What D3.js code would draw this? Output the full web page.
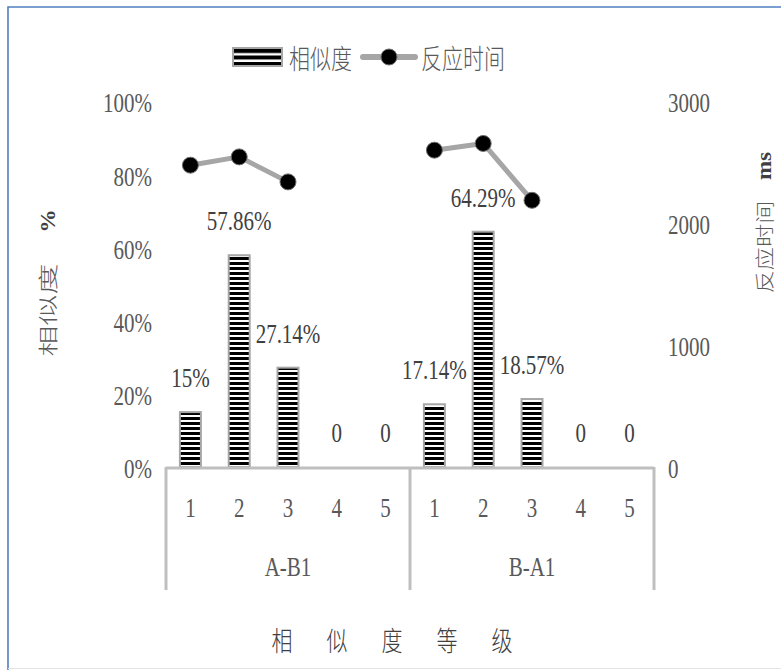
<!DOCTYPE html>
<html>
<head>
<meta charset="utf-8">
<script src="https://cdn.jsdelivr.net/npm/d3@7"></script>
<style>
  html, body { margin: 0; padding: 0; background: #fff; }
  svg { display: block; }
  text { font-family: "Liberation Serif", "Noto Sans CJK SC", serif; }
  .cjk { font-family: "Noto Sans CJK SC", "Liberation Serif", sans-serif; font-weight: 300; }
</style>
</head>
<body>
<svg id="chart" width="781" height="670"></svg>
<script>
// Groups and similarity levels along the category axis
const groups = ["A-B1", "B-A1"];
const levels = ["1", "2", "3", "4", "5"];

// Similarity share per level (%), one array per group
const simAB = [15, 57.86, 27.14, 0, 0];
const simBA = [17.14, 64.29, 18.57, 0, 0];

// Reaction time per level (ms); levels 4 and 5 have no trials
const rtAB = [2474, 2542, 2337, null, null];
const rtBA = [2597, 2652, 2186, null, null];

// Tick values for both vertical axes
const leftTicks = [0, 20, 40, 60, 80, 100];
const rightTicks = [0, 1000, 2000, 3000];

// Labels shown over each bar
const labelAB = ["15%", "57.86%", "27.14%", "0", "0"];
const labelBA = ["17.14%", "64.29%", "18.57%", "0", "0"];

const SY = 1.28;           // vertical text stretch
const TXT = "#595959";
const LBL = "#404040";
const AXIS = "#bfbfbf";

const svg = d3.select("#chart");

// Build flat rows for the band scale
const rows = [];
groups.forEach((g, gi) => {
  const sims = gi === 0 ? simAB : simBA;
  const rts = gi === 0 ? rtAB : rtBA;
  const lbls = gi === 0 ? labelAB : labelBA;
  levels.forEach((l, li) => rows.push({ key: g + "|" + l, group: g, level: l, sim: sims[li], rt: rts[li], label: lbls[li] }));
});

const x = d3.scaleBand().domain(rows.map(d => d.key)).range([166, 654]).paddingInner(0.57).paddingOuter(0.285);
const yL = d3.scaleLinear().domain([0, 100]).range([467, 101]);
const yR = d3.scaleLinear().domain([0, 3000]).range([467, 101]);
const cx = d => x(d.key) + x.bandwidth() / 2;

// Stripe patterns for bars and legend swatch
const defs = svg.append("defs");
const pat = defs.append("pattern").attr("id", "stripes").attr("patternUnits", "userSpaceOnUse")
  .attr("width", 10).attr("height", 5).attr("y", 467);
pat.append("rect").attr("width", 10).attr("height", 5).attr("fill", "#fff");
pat.append("rect").attr("y", 0).attr("width", 10).attr("height", 3).attr("fill", "#000");
const patL = defs.append("pattern").attr("id", "stripesL").attr("patternUnits", "userSpaceOnUse")
  .attr("width", 10).attr("height", 6.5).attr("y", 49);
patL.append("rect").attr("width", 10).attr("height", 6.5).attr("fill", "#fff");
patL.append("rect").attr("width", 10).attr("height", 4).attr("fill", "#000");

// Outer frame
svg.append("path").attr("d", "M8,670V7H781").attr("fill", "none").attr("stroke", "#4f7fc0").attr("stroke-width", 1.6);
svg.append("line").attr("x1", 8).attr("x2", 781).attr("y1", 668.5).attr("y2", 668.5).attr("stroke", "#e4e4e4");

// Stretched-text helper
function stext(sel, px, py, str, opts = {}) {
  const s = opts.stretch || SY;
  const t = sel.append("text")
    .attr("transform", `translate(${px},${py}) ${opts.rotate ? "rotate(-90) scale(" + s + ",1)" : "scale(1," + s + ")"}`)
    .attr("text-anchor", opts.anchor || "middle")
    .attr("dominant-baseline", "central")
    .attr("font-size", opts.size || 21)
    .attr("fill", opts.fill || TXT)
    .text(str);
  if (opts.cls) t.attr("class", opts.cls);
  if (opts.weight) t.attr("font-weight", opts.weight);
  if (opts.ls) t.attr("letter-spacing", opts.ls);
  return t;
}

// Vertical axes: labels only, stretched like the rest of the text
function styleAxis(g) {
  g.select(".domain").remove();
  g.selectAll("text").attr("dy", null).attr("dominant-baseline", "central")
    .attr("font-size", 21).attr("font-family", "Liberation Serif").attr("fill", TXT)
    .attr("transform", `scale(1,${SY})`);
  g.selectAll(".tick").each(function () {
    const tr = d3.select(this).attr("transform");
    const ty = +tr.match(/,([\d.\-]+)\)/)[1] + 2;
    d3.select(this).attr("transform", `translate(0,${ty})`);
  });
}
svg.append("g").attr("transform", "translate(152,0)")
  .call(d3.axisLeft(yL).tickValues(leftTicks).tickSize(0).tickPadding(0).tickFormat(d => d + "%"))
  .call(styleAxis);
svg.append("g").attr("transform", "translate(668,0)")
  .call(d3.axisRight(yR).tickValues(rightTicks).tickSize(0).tickPadding(0).tickFormat(d3.format("d")))
  .call(styleAxis);

// Bars
svg.append("g").selectAll("rect").data(rows.filter(d => d.sim > 0)).join("rect")
  .attr("x", d => x(d.key)).attr("width", x.bandwidth())
  .attr("y", d => yL(d.sim)).attr("height", d => yL(0) - yL(d.sim))
  .attr("fill", "url(#stripes)").attr("stroke", "#a6a6a6").attr("stroke-width", 2);

// Category axis: baseline, group dividers, tick labels
const gX = svg.append("g").attr("transform", "translate(0,467)")
  .call(d3.axisBottom(x).tickSize(0).tickPadding(0).tickFormat(d => d.split("|")[1]));
gX.select(".domain").remove();
gX.selectAll("text").attr("y", 0).attr("dy", null).attr("dominant-baseline", "central")
  .attr("font-size", 21).attr("font-family", "Liberation Serif").attr("fill", TXT)
  .attr("transform", `translate(0,41) scale(1,${SY})`);
svg.append("line").attr("x1", 166).attr("x2", 654).attr("y1", 468).attr("y2", 468)
  .attr("stroke", AXIS).attr("stroke-width", 3);
const dividers = [166, 410, 654];
svg.append("g").selectAll("line").data(dividers).join("line")
  .attr("x1", d => d).attr("x2", d => d).attr("y1", 467).attr("y2", 590)
  .attr("stroke", AXIS).attr("stroke-width", 3);
groups.forEach(g => {
  const first = x(g + "|1"), last = x(g + "|5") + x.bandwidth();
  stext(svg, (first + last) / 2, 567, g);
});

// Reaction time lines, one per group
const line = d3.line().defined(d => d.rt != null).x(cx).y(d => yR(d.rt));
groups.forEach(g => {
  const gr = rows.filter(d => d.group === g);
  svg.append("path").datum(gr).attr("d", line).attr("fill", "none")
    .attr("stroke", "#a6a6a6").attr("stroke-width", 5).attr("stroke-linejoin", "round");
});
svg.append("g").selectAll("circle").data(rows.filter(d => d.rt != null)).join("circle")
  .attr("cx", cx).attr("cy", d => yR(d.rt)).attr("r", 8)
  .attr("fill", "#000").attr("stroke", "#6e6e6e").attr("stroke-width", 1);

// Value labels above bars
rows.forEach(d => stext(svg, cx(d), yL(d.sim) - 34, d.label, { fill: LBL }));

// Axis titles
stext(svg, 48, 310, "相似度", { rotate: true, cls: "cjk", size: 20, stretch: 1.55 });
stext(svg, 48, 221, "%", { rotate: true, size: 21, weight: "bold", fill: "#404040", stretch: 1.1 });
stext(svg, 763, 247, "反应时间", { rotate: true, cls: "cjk", size: 19, stretch: 1.22 });
stext(svg, 764, 166, "ms", { rotate: true, size: 22, weight: "bold", fill: "#404040", stretch: 1.05 });
const titleChars = ["相", "似", "度", "等", "级"];
titleChars.forEach((c, i) => stext(svg, 282 + i * 55, 639, c, { cls: "cjk", size: 21, fill: "#404040" }));

// Legend
const lg = svg.append("g");
lg.append("rect").attr("x", 233).attr("y", 48).attr("width", 49).attr("height", 18)
  .attr("fill", "url(#stripesL)").attr("stroke", "#a6a6a6").attr("stroke-width", 2);
stext(lg, 289, 57, "相似度", { anchor: "start", cls: "cjk", size: 21 });
lg.append("line").attr("x1", 363).attr("x2", 415).attr("y1", 57).attr("y2", 57)
  .attr("stroke", "#a6a6a6").attr("stroke-width", 6).attr("stroke-linecap", "round");
lg.append("circle").attr("cx", 389).attr("cy", 57).attr("r", 8).attr("fill", "#000").attr("stroke", "#6e6e6e");
stext(lg, 421, 57, "反应时间", { anchor: "start", cls: "cjk", size: 21 });
</script>
</body>
</html>
